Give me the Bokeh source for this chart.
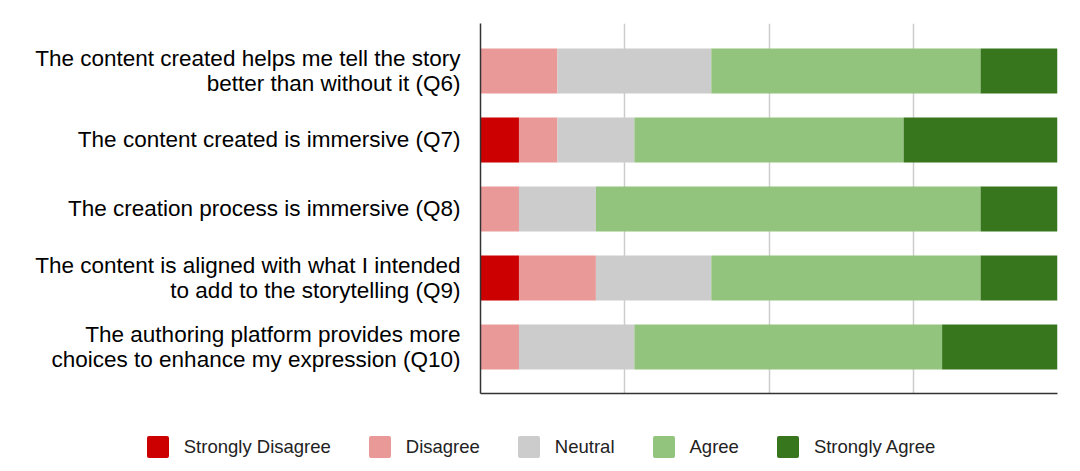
from bokeh.plotting import figure
from bokeh.layouts import column
from bokeh.models import ColumnDataSource, FixedTicker, Range1d, Div
from bokeh.embed import file_html
from bokeh.resources import INLINE

questions = [
    "The content created helps me tell the story\nbetter than without it (Q6)",
    "The content created is immersive (Q7)",
    "The creation process is immersive (Q8)",
    "The content is aligned with what I intended\nto add to the storytelling (Q9)",
    "The authoring platform provides more\nchoices to enhance my expression (Q10)",
]
levels = ["Strongly Disagree", "Disagree", "Neutral", "Agree", "Strongly Agree"]
colors = ["#cc0000", "#ea9999", "#cccccc", "#93c47d", "#38761d"]

strongly_disagree = [0, 1, 0, 1, 0]
disagree = [2, 1, 1, 2, 1]
neutral = [4, 2, 2, 3, 3]
agree = [7, 7, 10, 7, 8]
strongly_agree = [2, 4, 2, 2, 3]
total_respondents = 15

n = len(questions)
ypos = [n - 1 - i for i in range(n)]
source = ColumnDataSource(dict(
    y=ypos,
    **{
        levels[0]: strongly_disagree,
        levels[1]: disagree,
        levels[2]: neutral,
        levels[3]: agree,
        levels[4]: strongly_agree,
    }
))

FONT = "Liberation Sans"

p = figure(
    width=1072, height=400,
    x_range=Range1d(0, total_respondents),
    y_range=Range1d(-0.674, n - 1 + 0.688),
    output_backend="svg", toolbar_location=None,
    min_border_left=480, min_border_right=15, min_border_top=23, min_border_bottom=7,
)
p.outline_line_color = None

renderers = p.hbar_stack(levels, y="y", height=0.652, color=colors, source=source,
                         line_color=None)

# y axis with question labels
p.yaxis.ticker = FixedTicker(ticks=ypos)
p.yaxis.major_label_overrides = {y: q for y, q in zip(ypos, questions)}
p.yaxis.major_label_text_font = FONT
p.yaxis.major_label_text_font_size = "22.5px"
p.yaxis.major_label_text_line_height = 1.0
p.yaxis.major_label_text_color = "#000000"
p.yaxis.major_tick_out = 0
p.yaxis.major_tick_in = 0
p.yaxis.minor_tick_out = 0
p.yaxis.minor_tick_in = 0
p.yaxis.major_label_standoff = 20
p.yaxis.axis_line_color = "#333333"
p.yaxis.axis_line_width = 1.5

# x axis: line only, gridlines at quarters
quarters = [0, 0.25, 0.5, 0.75, 1.0]
xticks = [total_respondents * q for q in quarters]
p.xaxis.ticker = FixedTicker(ticks=[])
p.xaxis.major_tick_out = 0
p.xaxis.major_tick_in = 0
p.xaxis.minor_tick_out = 0
p.xaxis.minor_tick_in = 0
p.xaxis.major_label_standoff = 0
p.xaxis.axis_label_standoff = 0
p.xaxis.axis_line_color = "#333333"
p.xaxis.axis_line_width = 1.5

p.ygrid.grid_line_color = None
p.xgrid.ticker = FixedTicker(ticks=xticks)
p.xgrid.grid_line_color = "#cccccc"
p.xgrid.grid_line_width = 1.5

# legend row (HTML, built from the level names and colours)
items = "".join(
    f'<div style="display:flex;align-items:center;">'
    f'<span style="display:inline-block;width:22px;height:22px;background:{c};'
    f'border-radius:2px;margin-right:15px;"></span>'
    f'<span>{lv}</span></div>'
    for lv, c in zip(levels, colors)
)
legend_html = (
    '<div style="display:flex;justify-content:center;gap:38px;width:1072px;'
    "padding-top:31px;font-family:'Liberation Sans',Arial,sans-serif;"
    'font-size:18.5px;line-height:22px;color:#222222;">' + items + '</div>'
)
legend_div = Div(text=legend_html, width=1072, height=71)

layout = column(p, legend_div, spacing=0)
open("out.html", "w").write(file_html(layout, INLINE))
